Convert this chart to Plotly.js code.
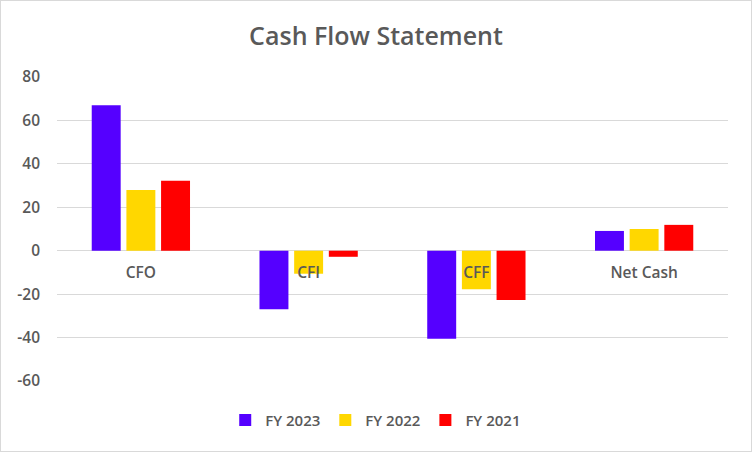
<!DOCTYPE html>
<html>
<head>
<meta charset="utf-8">
<script src="https://cdn.plot.ly/plotly-3.0.1.min.js"></script>
<style>
  html, body { margin: 0; padding: 0; background: #ffffff; }
  #chart { width: 750px; height: 450px; border: 1px solid #d9d9d9; }
</style>
</head>
<body>
<div id="chart"></div>
<script>
const categories = ["CFO", "CFI", "CFF", "Net Cash"];
const seriesNames = ["FY 2023", "FY 2022", "FY 2021"];
const fy2023 = [67, -27, -40.6, 9.1];
const fy2022 = [28, -10.6, -17.7, 10];
const fy2021 = [32.2, -2.8, -22.7, 11.9];
const seriesColors = ["#5500ff", "#ffd700", "#ff0000"];
const yTickVals = [-60, -40, -20, 0, 20, 40, 60, 80];

const seriesValues = [fy2023, fy2022, fy2021];
const traces = seriesNames.map((name, i) => ({
  type: "bar",
  name: name,
  x: categories,
  y: seriesValues[i],
  marker: { color: seriesColors[i], line: { width: 0 } },
  hoverinfo: "x+y+name"
}));

const fontFamily = "'Open Sans', Lato, sans-serif";
const layout = {
  width: 750,
  height: 450,
  margin: { l: 56, r: 23, t: 76, b: 70, pad: 0 },
  paper_bgcolor: "#ffffff",
  plot_bgcolor: "#ffffff",
  font: { family: fontFamily, color: "#595959", size: 14, weight: 600 },
  title: {
    text: "Cash Flow Statement",
    font: { family: fontFamily, size: 25, color: "#595959", weight: 600 },
    x: 0.5, xanchor: "center",
    y: 1 - 35 / 452, yref: "container", yanchor: "middle"
  },
  barmode: "group",
  bargap: 0.38,
  bargroupgap: 0.165,
  xaxis: {
    type: "category",
    anchor: "free",
    position: 60 / 140,
    showline: false,
    showgrid: false,
    zeroline: false,
    ticks: "",
    ticklabelstandoff: 11,
    tickfont: { family: fontFamily, size: 15.5, color: "#595959", weight: 600 },
    fixedrange: true
  },
  yaxis: {
    range: [-60, 80],
    tickvals: yTickVals,
    ticktext: yTickVals.map(v => String(v)),
    showgrid: true,
    gridcolor: "#d9d9d9",
    gridwidth: 1,
    zeroline: true,
    zerolinecolor: "#d9d9d9",
    zerolinewidth: 1,
    showline: false,
    ticks: "",
    ticklabelstandoff: 16,
    tickfont: { family: fontFamily, size: 15.5, color: "#595959", weight: 600 },
    fixedrange: true
  },
  showlegend: true,
  legend: {
    orientation: "h",
    x: 0.475, xanchor: "center",
    y: -(420 - 380.75) / 304, yanchor: "middle",
    font: { family: fontFamily, size: 15, color: "#595959", weight: 600 },
    itemwidth: 30,
    traceorder: "normal"
  }
};

Plotly.newPlot("chart", traces, layout, { displayModeBar: false, staticPlot: true });
</script>
</body>
</html>
